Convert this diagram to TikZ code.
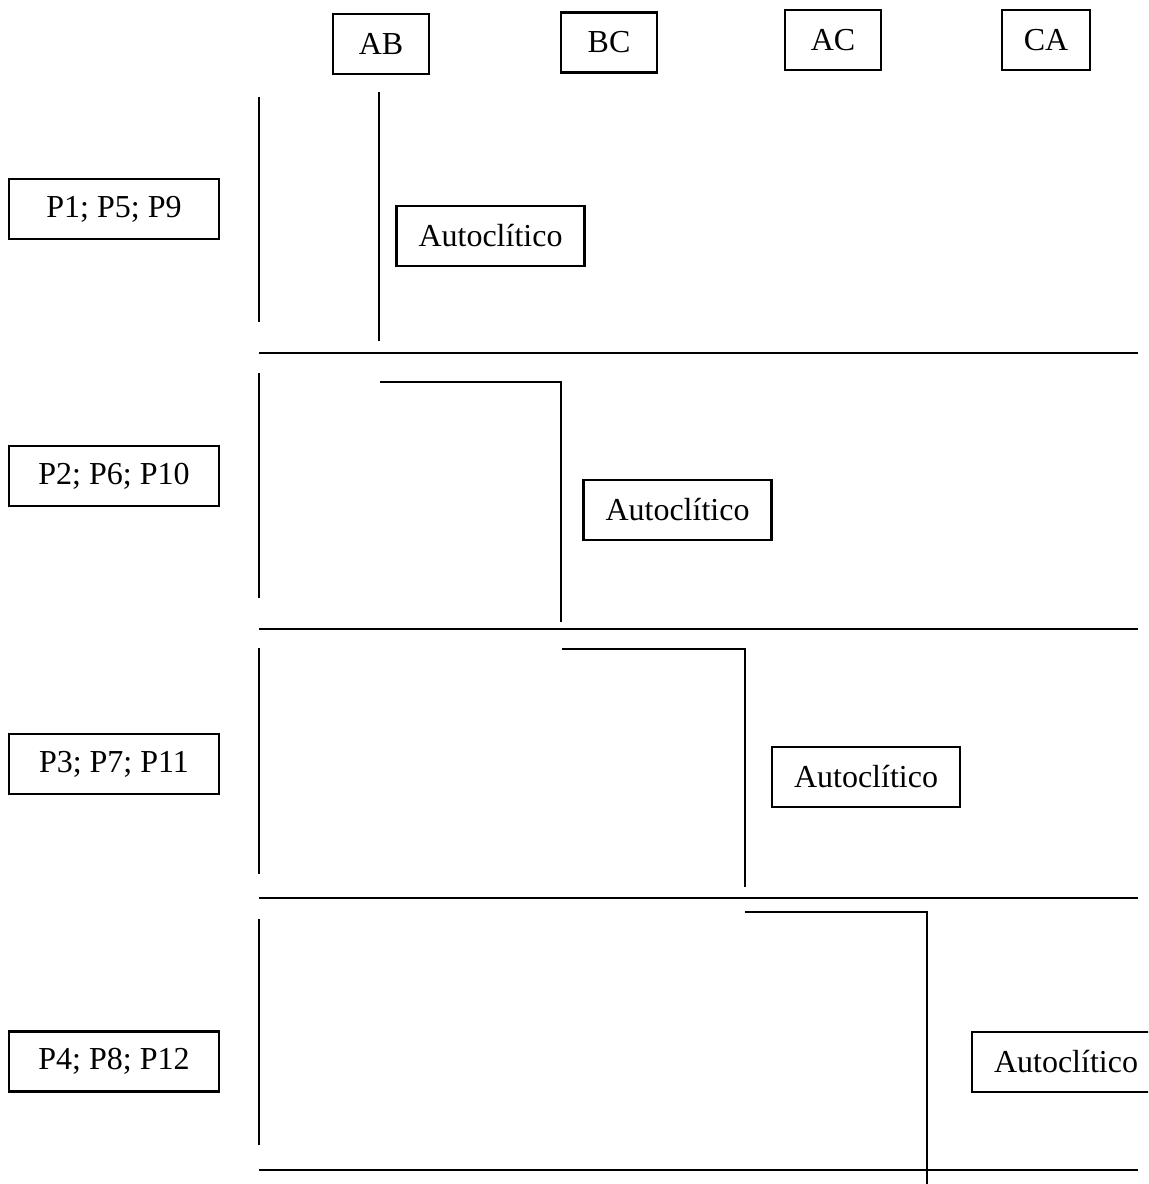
\documentclass[tikz,border=0pt]{standalone}
\usepackage{fontspec}
\setmainfont{Liberation Serif}
\begin{document}
\begin{tikzpicture}[x=0.5pt, y=-0.5pt,
  every node/.style={font=\fontsize{16}{19}\selectfont, inner sep=0pt},
  colbox/.style={draw, line width=1.2pt, minimum width=48pt, minimum height=30pt},
  rowbox/.style={draw, line width=1.2pt, minimum width=105pt, minimum height=30pt},
  autobox/.style={draw, line width=1.2pt, minimum width=94pt, minimum height=30pt},
  rule/.style={line width=0.8pt}]
\clip (0,0) rectangle (1148,1184);
\useasboundingbox (0,0) rectangle (1148,1184);
% column headers
\node[colbox] (ab) at (381, 44) {AB};
\node[colbox] (bc) at (609, 42.5) {BC};
\node[colbox] (ac) at (833, 40) {AC};
\node[colbox, minimum width=44pt] (ca) at (1046, 40) {CA};
% row labels
\node[rowbox] (p1) at (114, 209) {P1; P5; P9};
\node[rowbox] (p2) at (114, 476) {P2; P6; P10};
\node[rowbox] (p3) at (114, 764) {P3; P7; P11};
\node[rowbox] (p4) at (114, 1061.5) {P4; P8; P12};
% autoclitic boxes
\node[autobox] (auto1) at (490.5, 236) {Autoclítico};
\node[autobox] (auto2) at (677.5, 510) {Autoclítico};
\node[autobox] (auto3) at (866, 777) {Autoclítico};
\node[autobox] (auto4) at (1066, 1062) {Autoclítico};
% left rules
\draw[rule] (259, 97) -- (259, 322);
\draw[rule] (259, 373) -- (259, 598);
\draw[rule] (259, 648) -- (259, 874);
\draw[rule] (259, 919) -- (259, 1145);
% separators
\draw[rule] (259, 353) -- (1138, 353);
\draw[rule] (259, 629) -- (1138, 629);
\draw[rule] (259, 898) -- (1138, 898);
\draw[rule] (259, 1170) -- (1138, 1170);
% steps
\draw[rule] (379, 92) -- (379, 341);
\draw[rule] (380, 382) -- (561, 382) -- (561, 622);
\draw[rule] (562, 649) -- (745, 649) -- (745, 887);
\draw[rule] (745, 912) -- (927, 912) -- (927, 1184);
\end{tikzpicture}
\end{document}
